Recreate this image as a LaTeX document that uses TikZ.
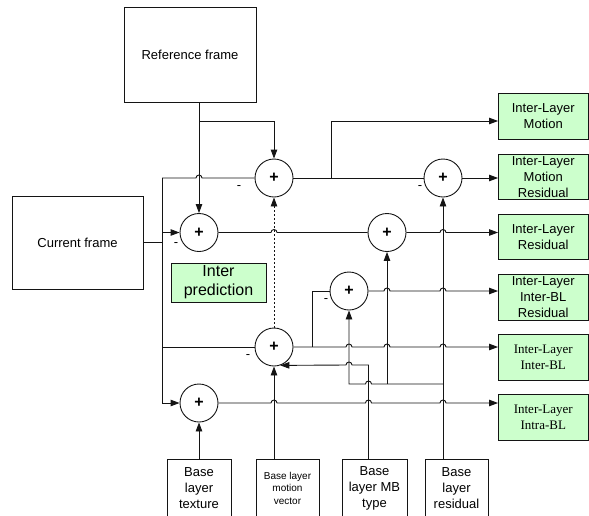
\documentclass[tikz,border=0pt]{standalone}
\usepackage{fontspec}
\setmainfont{Liberation Sans}
\newfontfamily\serifface{Liberation Serif}
\usetikzlibrary{arrows.meta}

% a horizontal line jumping over a vertical one: row reference #1, column reference #2
\newcommand\hopR[2]{-- ([xshift=-3pt]#1 -| #2) arc[start angle=180,end angle=0,radius=3pt]}
\newcommand\hopL[2]{-- ([xshift=3pt]#1 -| #2) arc[start angle=0,end angle=180,radius=3pt]}

\definecolor{boxgreen}{RGB}{204,255,204}
\definecolor{wire}{RGB}{20,20,20}

\tikzset{
  every path/.style={line width=0.9pt},
  frame/.style={draw=wire, line width=0.9pt, inner sep=0pt, align=center,
    font=\fontsize{13}{16}\selectfont},
  outbox/.style={frame, fill=boxgreen, minimum width=89.5pt, minimum height=45.5pt},
  srcbox/.style={frame, minimum height=58pt},
  adder/.style={draw=wire, circle, minimum size=38pt, inner sep=0pt,
    font=\fontsize{16}{16}\selectfont\bfseries},
  minus/.style={inner sep=0pt, font=\fontsize{13}{13}\selectfont},
  arr/.style={draw=wire, -{Triangle[length=9pt,width=6.5pt]}},
  wireline/.style={draw=wire},
}

\begin{document}
\begin{tikzpicture}[x=1pt,y=-1pt]
\useasboundingbox (0,0) rectangle (589,515);

% frames
\node[frame, minimum width=132pt, minimum height=95pt] (ref) at (190,54.5) {Reference frame};
\node[frame, minimum width=131pt, minimum height=93pt] (cur) at (77.5,242.5) {Current frame};

% adders
\node[adder] (A) at (274,178) {+};
\node[adder] (B) at (199,232.5) {+};
\node[adder] (C) at (387,232.5) {+};
\node[adder] (D) at (199,403) {+};
\node[adder] (E) at (443,178) {+};
\node[adder] (F) at (274,347) {+};
\node[adder] (G) at (349,291) {+};

% minus signs of the subtracting inputs
\node[minus] (mA) at (239,188) {-};
\node[minus] (mB) at (176,245) {-};
\node[minus] (mE) at (420,188) {-};
\node[minus] (mF) at (248,357) {-};
\node[minus] (mG) at (326,301) {-};

% inter prediction label
\node[frame, fill=boxgreen, minimum width=95pt, minimum height=39pt,
      font=\fontsize{16}{19}\selectfont] (pred) at (218.5,282.5) {Inter\\prediction};

% outputs
\node[outbox] (m1) at (543.25,116.5) {Inter-Layer\\Motion};
\node[outbox] (m2) at (543.25,177) {Inter-Layer\\Motion\\Residual};
\node[outbox] (m3) at (543.25,237) {Inter-Layer\\Residual};
\node[outbox] (m4) at (543.25,297.5) {Inter-Layer\\Inter-BL\\Residual};
\node[outbox, font=\serifface\fontsize{13}{16}\selectfont] (m5) at (543.25,357.5) {Inter-Layer\\Inter-BL};
\node[outbox, font=\serifface\fontsize{13}{16}\selectfont] (m6) at (543.25,417.5) {Inter-Layer\\Intra-BL};

% base layer sources
\node[srcbox, minimum width=64pt] (tex) at (199,488) {Base\\layer\\texture};
\node[srcbox, minimum width=63pt, font=\fontsize{10}{12.5}\selectfont] (mv) at (287.5,488) {Base layer\\motion\\vector};
\node[srcbox, minimum width=65pt] (mb) at (374.5,488) {Base\\layer MB\\type};
\node[srcbox, minimum width=63pt] (res) at (456.5,488) {Base\\layer\\residual};

% junction points
\coordinate (refbr) at (199,121);
\coordinate (bustop) at (162,178);
\coordinate (mtap) at (331,178);
\coordinate (gtap) at (312,347);
\coordinate (mbx) at (368.5,459);
\coordinate (mbturn) at (368.5,365);
\coordinate (resj) at (443,384);

% vertical wires
\draw[arr] (ref.south -| B) -- (B.north);
\draw[arr] (refbr) -| (A.north);
\draw[arr, dash pattern=on 2pt off 2pt] (F.north) -- (A.south);
\draw[arr] (tex.north) -- (D.south);
\draw[arr] (mv.north -| F) -- (F.south);
\draw[arr] (res.north -| E) -- (E.south);
\draw[arr] (resj -| C) -- (C.south);
\draw[arr] (resj) \hopL{resj}{mbx} -| (G.south);
\draw[arr] (mbx) -- (mbturn) \hopL{mbturn}{G} -- (F.-71);

% current frame bus
\draw[wireline] (cur.east) -- (cur.east -| bustop);
\draw[arr] (bustop) |- (D.west);
\draw[wireline] (bustop) \hopR{bustop}{B} -- (A.west);
\draw[arr] (B.west -| bustop) -- (B.west);
\draw[wireline] (F.west -| bustop) -- (F.west);

% horizontal wires towards the outputs
\draw[wireline] (A.east) -- (E.west);
\draw[arr] (mtap) |- (m1.west |- refbr);
\draw[arr] (E.east) -- (E.east -| m2.west);
\draw[wireline] (B.east) \hopR{B.east}{F} -- (C.west);
\draw[arr] (C.east) \hopR{C.east}{E} -- (C.east -| m3.west);
\draw[arr] (G.east) \hopR{G.east}{C} \hopR{G.east}{E} -- (G.east -| m4.west);
\draw[wireline] (gtap) |- (G.west);
\draw[arr] (F.east) \hopR{F.east}{G} \hopR{F.east}{C} \hopR{F.east}{E} -- (F.east -| m5.west);
\draw[arr] (D.east) \hopR{D.east}{F} \hopR{D.east}{mbx} \hopR{D.east}{E} -- (D.east -| m6.west);
\end{tikzpicture}
\end{document}
